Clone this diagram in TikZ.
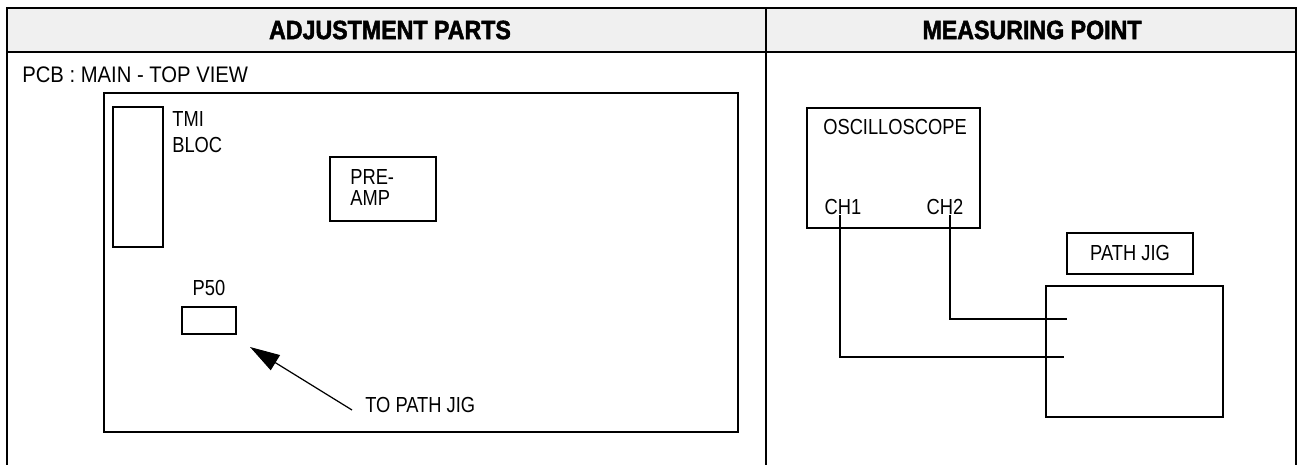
\documentclass[tikz,border=0pt]{standalone}
\usepackage{fontspec}
\setmainfont{Liberation Sans}
\newfontfamily\titlefont[FakeStretch=0.88,FakeBold=1.8]{Liberation Sans}
\newfontfamily\bodyfont[FakeStretch=0.84]{Liberation Sans}
\newfontfamily\pcbfont[FakeStretch=0.9]{Liberation Sans}
\usetikzlibrary{arrows.meta,fit}
\begin{document}
\begin{tikzpicture}[x=0.02cm,y=-0.02cm,
  frame/.style={line width=1.3pt,black},
  sepline/.style={line width=1.1pt,black},
  box/.style={draw,line width=0.8pt,inner sep=0pt},
  wire/.style={line width=0.7pt},
  ttl/.style={font=\titlefont\bfseries\fontsize{15}{17}\selectfont,inner sep=0pt},
  lbl/.style={font=\bodyfont\fontsize{12.4}{14}\selectfont,inner sep=0pt},
  bigarrow/.style={line width=0.7pt,-{Triangle[length=17pt,width=10pt]}}]
\useasboundingbox (0,0) rectangle (1297,465);
% header band
\fill[black!6] (7,8) rectangle (1296,52);
% frame
\draw[frame] (7,465) -- (7,8) -- (1296,8) -- (1296,465);
\draw[sepline] (7,52) -- (1296,52);
\draw[sepline] (766,8) -- (766,465);
% titles
\node[ttl] (titleL) at (390,30) {ADJUSTMENT PARTS};
\node[ttl] (titleR) at (1032,30) {MEASURING POINT};
% left panel
\node[lbl,font=\pcbfont\fontsize{12.8}{14}\selectfont,anchor=west] (pcblabel) at (22,75) {PCB : MAIN - TOP VIEW};
\node[box,fit={(104,93) (738,432)}] (pcb) {};
\node[box,fit={(113,107) (163,247)}] (tmi) {};
\node[lbl,anchor=west] (tmit) at (172,119) {TMI};
\node[lbl,anchor=west] (bloct) at (172,145) {BLOC};
\node[box,fit={(330,157) (436,221)}] (preamp) {};
\node[lbl,anchor=west] (pret) at (350,177) {PRE-};
\node[lbl,anchor=west] (ampt) at (350,198) {AMP};
\node[lbl] (p50t) at (209,288) {P50};
\node[box,fit={(182,307) (236,334)}] (p50) {};
\node[lbl,anchor=west] (tojig) at (365,405) {TO PATH JIG};
\coordinate (tail) at (352,410);
\coordinate (tip) at (250,347);
\draw[bigarrow] (tail) -- (tip);
% right panel
\node[box,fit={(807,108) (980,228)}] (osc) {};
\node[lbl] (osct) at (895,127) {OSCILLOSCOPE};
\node[lbl] (ch1) at (843,207) {CH1};
\node[lbl] (ch2) at (945,207) {CH2};
\node[box,fit={(1067,233) (1193,274)}] (pjlabel) {};
\node[lbl] (pjt) at (1130,253) {PATH JIG};
\node[box,fit={(1046,286) (1223,417)}] (jig) {};
\coordinate (in2) at (1067,319);
\coordinate (in1) at (1064,357);
\draw[wire] (ch1.south -| 840,0) -- (840,357) -- (in1);
\draw[wire] (ch2.south -| 950,0) -- (950,319) -- (in2);
\end{tikzpicture}
\end{document}
